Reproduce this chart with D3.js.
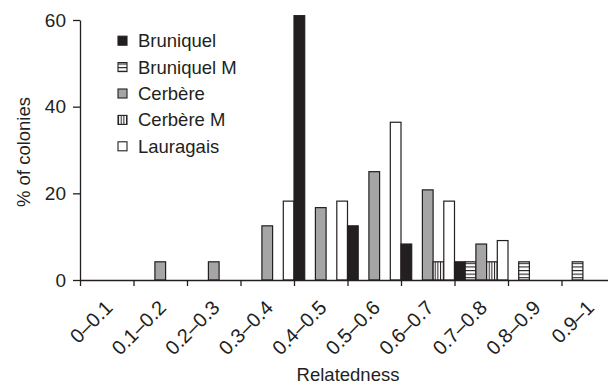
<!DOCTYPE html>
<html>
<head>
<meta charset="utf-8">
<script src="https://cdn.jsdelivr.net/npm/d3@7"></script>
<style>
  html, body { margin: 0; padding: 0; background: #fff; }
  svg { display: block; font-family: "Liberation Sans", Arial, Helvetica, sans-serif; }
</style>
</head>
<body>
<svg id="chart" width="608" height="387"></svg>
<script>
const categories = ["0\u20130.1","0.1\u20130.2","0.2\u20130.3","0.3\u20130.4","0.4\u20130.5","0.5\u20130.6","0.6\u20130.7","0.7\u20130.8","0.8\u20130.9","0.9\u20131"];
const seriesNames = ["Bruniquel","Bruniquel M","Cerb\u00e8re","Cerb\u00e8re M","Lauragais"];
const bruniquel  = [0, 0,   0,   0,    61,   12.5, 8.3,  4.2, 0,   0];
const bruniquelM = [0, 0,   0,   0,    0,    0,    0,    4.2, 4.2, 4.2];
const cerbere    = [0, 4.2, 4.2, 12.5, 16.7, 25,   20.8, 8.3, 0,   0];
const cerbereM   = [0, 0,   0,   0,    0,    0,    4.2,  4.2, 0,   0];
const lauragais  = [0, 0,   0,   18.2, 18.2, 36.4, 18.2, 9.1, 0,   0];
const yTicks = [0, 20, 40, 60];

const seriesValues = [bruniquel, bruniquelM, cerbere, cerbereM, lauragais];
const ink = "#231f20";
const fills = ["#231f20", "url(#hstripe)", "#a5a5a5", "url(#vstripe)", "#ffffff"];

const svg = d3.select("#chart");
const defs = svg.append("defs");
const hp = defs.append("pattern").attr("id","hstripe").attr("patternUnits","userSpaceOnUse")
  .attr("width", 4).attr("height", 3.6);
hp.append("rect").attr("width",4).attr("height",3.6).attr("fill","#fff");
hp.append("rect").attr("y",0).attr("width",4).attr("height",1.1).attr("fill",ink);
const vp = defs.append("pattern").attr("id","vstripe").attr("patternUnits","userSpaceOnUse")
  .attr("width", 2.7).attr("height", 4);
vp.append("rect").attr("width",2.7).attr("height",4).attr("fill","#fff");
vp.append("rect").attr("x",0).attr("width",1).attr("height",4).attr("fill",ink);

const x0 = 80, x1 = 615, yTop = 20, yBase = 280;
const x = d3.scaleBand().domain(categories).range([x0, x1]).padding(0);
const xs = d3.scaleBand().domain(seriesNames).range([0, x.bandwidth()]).padding(0);
const y = d3.scaleLinear().domain([0, 60]).range([yBase, yTop]);
const xIdx = d3.scaleLinear().domain([0, categories.length]).range([x0, x1]);

// bars
const barData = [];
categories.forEach((c, i) => {
  seriesNames.forEach((s, j) => {
    const v = seriesValues[j][i];
    if (v > 0) barData.push({c, s, j, v});
  });
});
svg.append("g").selectAll("rect").data(barData).join("rect")
  .attr("x", d => x(d.c) + xs(d.s))
  .attr("y", d => y(d.v))
  .attr("width", xs.bandwidth())
  .attr("height", d => yBase - y(d.v))
  .attr("fill", d => fills[d.j])
  .attr("stroke", ink)
  .attr("stroke-width", 1.2);

// x axis
const gx = svg.append("g").attr("transform", `translate(0,${yBase})`)
  .call(d3.axisBottom(xIdx).tickValues(d3.range(0, categories.length + 1)).tickSize(6).tickSizeOuter(0).tickFormat(""));
gx.select(".domain").attr("stroke", ink).attr("stroke-width", 1.3);
gx.selectAll(".tick line").attr("stroke", ink).attr("stroke-width", 1.3);

svg.append("g").selectAll("text").data(categories).join("text")
  .attr("transform", d => `translate(${x(d) + x.bandwidth()/2 + 7},${309}) rotate(-45)`)
  .attr("text-anchor", "end")
  .attr("font-size", 20)
  .attr("fill", ink)
  .text(d => d);

// y axis
const gy = svg.append("g").attr("transform", `translate(${x0},0)`)
  .call(d3.axisLeft(y).tickValues(yTicks).tickSize(7).tickPadding(7).tickSizeOuter(0));
gy.select(".domain").attr("stroke", ink).attr("stroke-width", 1.3);
gy.selectAll(".tick line").attr("stroke", ink).attr("stroke-width", 1.3);
gy.selectAll(".tick text").attr("font-size", 19).attr("fill", ink).attr("font-family", "Liberation Sans, Arial, sans-serif");

// axis titles
svg.append("text").attr("x", 348).attr("y", 381).attr("text-anchor", "middle")
  .attr("font-size", 18.5).attr("fill", ink).text("Relatedness");
svg.append("text").attr("transform", "translate(30,152) rotate(-90)").attr("text-anchor", "middle")
  .attr("font-size", 18.5).attr("fill", ink).text("% of colonies");

// legend
const lg = svg.append("g").attr("transform", "translate(118,40.7)");
const item = lg.selectAll("g").data(seriesNames).join("g")
  .attr("transform", (d, i) => `translate(0,${i * 26.4})`);
item.append("rect").attr("x", 0).attr("y", -4.5).attr("width", 9).attr("height", 9)
  .attr("fill", (d, i) => fills[i]).attr("stroke", ink).attr("stroke-width", 1.1);
item.append("text").attr("x", 20).attr("y", 6.5).attr("font-size", 18.5).attr("fill", ink).text(d => d);
</script>
</body>
</html>
